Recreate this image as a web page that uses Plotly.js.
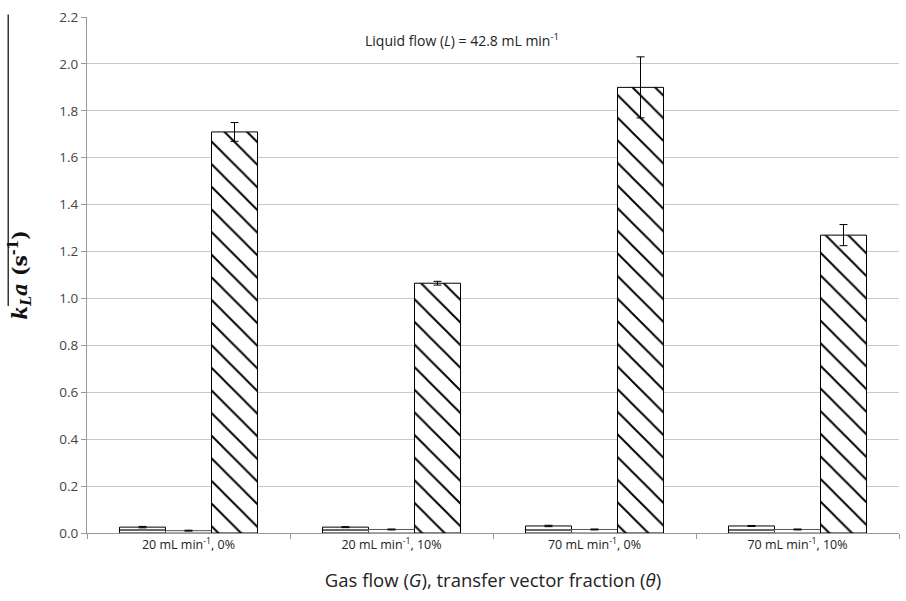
<!DOCTYPE html>
<html><head><meta charset="utf-8">
<script src="https://cdn.plot.ly/plotly-3.0.1.min.js"></script>
<style>body{margin:0;background:#fff}#c{width:906px;height:601px}</style>
</head><body><div id="c"></div>
<script>
const categories = ["20 mL min<sup>-1</sup>, 0%", "20 mL min<sup>-1</sup>, 10%", "70 mL min<sup>-1</sup>, 0%", "70 mL min<sup>-1</sup>, 10%"];
const series1 = [0.025, 0.025, 0.030, 0.030];
const err1 = [0.003, 0.002, 0.003, 0.002];
const series2 = [0.010, 0.015, 0.015, 0.015];
const err2 = [0.002, 0.002, 0.002, 0.002];
const series3 = [1.71, 1.065, 1.90, 1.27];
const err3 = [0.04, 0.008, 0.13, 0.045];
const yTicks = [0, 0.2, 0.4, 0.6, 0.8, 1.0, 1.2, 1.4, 1.6, 1.8, 2.0, 2.2];

const eb = (a) => ({type:'data', array:a, visible:true, color:'#000', thickness:1, width:4});
const traces = [
  {type:'bar', x:categories, y:series1, error_y:eb(err1),
   marker:{color:'#fff', line:{color:'#000', width:1}, pattern:{shape:'-', fgcolor:'#000', bgcolor:'#fff', size:6, solidity:0.2}}},
  {type:'bar', x:categories, y:series2, error_y:eb(err2),
   marker:{color:'#fff', line:{color:'#555', width:1}}},
  {type:'bar', x:categories, y:series3, error_y:eb(err3),
   marker:{color:'#fff', line:{color:'#000', width:1}, pattern:{shape:'\\', fgcolor:'#000', bgcolor:'#fff', size:16, solidity:0.12}}}
];
const layout = {
  width:906, height:601, showlegend:false,
  margin:{l:87, r:7, t:17, b:68},
  paper_bgcolor:'#fff', plot_bgcolor:'#fff',
  barmode:'group', bargap:0.32, bargroupgap:0,
  font:{family:'Open Sans, sans-serif', color:'#222'},
  xaxis:{type:'category', tickson:'boundaries', ticks:'outside', ticklen:5, tickcolor:'#999',
    showline:true, linecolor:'#999', linewidth:1, showgrid:false,
    tickfont:{size:12.5, color:'#222'},
    title:{text:'Gas flow (<i>G</i>), transfer vector fraction (<i>θ</i>)', font:{size:18.5, color:'#222'}, standoff:22}},
  yaxis:{range:[0,2.2], tickvals:yTicks, tickformat:'.1f', ticks:'outside', ticklen:5, tickcolor:'#999',
    showline:true, linecolor:'#999', linewidth:1, gridcolor:'#c8c8c8', zeroline:false,
    tickfont:{size:13.5, color:'#444'},
    title:{text:'<b><i>k<sub>L</sub>a</i> (s<sup>-1</sup>)</b>', font:{family:'DejaVu Serif, serif', size:20, color:'#111'}, standoff:26}},
  annotations:[{xref:'paper', yref:'paper', x:0.462, y:0.978, showarrow:false,
    text:'Liquid flow (<i>L</i>) = 42.8 mL min<sup>-1</sup>', font:{size:14, color:'#222'}}],
  shapes:[{type:'line', xref:'paper', yref:'paper', x0:-0.097, x1:-0.097, y0:0.44, y1:1.005, line:{color:'#333', width:1.5}}]
};
Plotly.newPlot('c', traces, layout, {displayModeBar:false});
</script></body></html>
